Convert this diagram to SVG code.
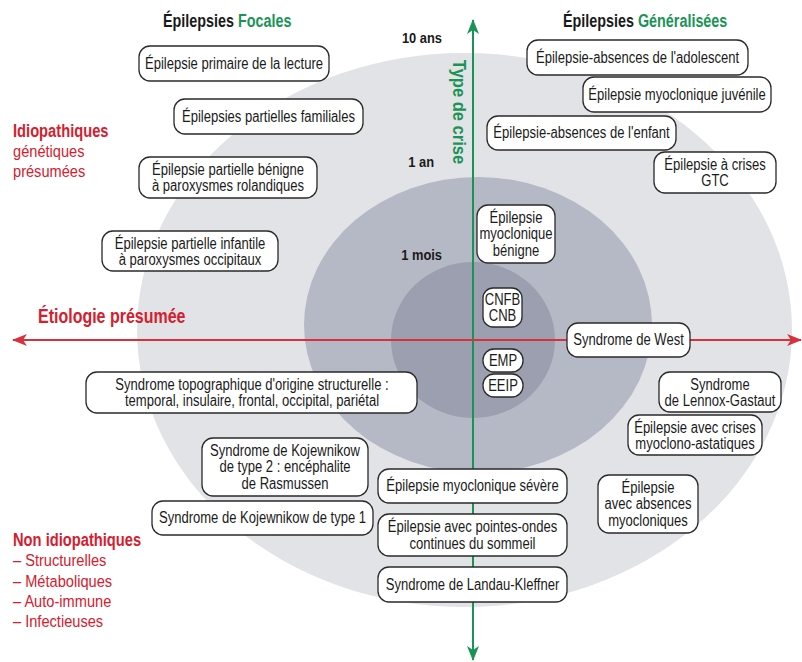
<svg xmlns="http://www.w3.org/2000/svg" width="802" height="662" viewBox="0 0 802 662">
<style>
.node rect{fill:#fff;stroke:#2a2a2a;stroke-width:1.3}
.node text{font-family:"Liberation Sans Narrow","Liberation Sans",Arial,sans-serif;font-size:16px;fill:#1a1a1a;text-anchor:middle}
.hd{font-family:"Liberation Sans Narrow","Liberation Sans",Arial,sans-serif;font-weight:bold;font-size:17.5px;fill:#1a1a1a}
.gr{fill:#1a9455}
.red{fill:#d4202e}
.age{font-family:"Liberation Sans Narrow","Liberation Sans",Arial,sans-serif;font-weight:bold;font-size:15px;fill:#1a1a1a;text-anchor:end}
.lg{font-family:"Liberation Sans Narrow","Liberation Sans",Arial,sans-serif;font-size:17px;fill:#d4202e}
</style>
<defs>
<marker id="ag" markerUnits="userSpaceOnUse" markerWidth="16" markerHeight="12" refX="14" refY="6" orient="auto-start-reverse" viewBox="0 0 16 12">
<path d="M0,0 L15,6 L0,12 L4,6 Z" fill="#1a9455"/>
</marker>
<marker id="ar" markerUnits="userSpaceOnUse" markerWidth="16" markerHeight="12" refX="14" refY="6" orient="auto-start-reverse" viewBox="0 0 16 12">
<path d="M0,0 L15,6 L0,12 L4,6 Z" fill="#d8303c"/>
</marker>
</defs>
<rect width="802" height="662" fill="#fff"/>
<g id="background">
<ellipse cx="464.5" cy="330" rx="327.5" ry="277" fill="#e2e3e7"/>
<ellipse cx="478" cy="325" rx="174" ry="148" fill="#b5b9c5"/>
<ellipse cx="473" cy="340" rx="82" ry="78" fill="#9b9fb0"/>
</g>
<g id="connectors">
<line x1="473" y1="20" x2="473" y2="660" stroke="#1a9455" stroke-width="2" marker-start="url(#ag)" marker-end="url(#ag)"/>
<line x1="13" y1="340" x2="801" y2="340" stroke="#d8303c" stroke-width="2" marker-start="url(#ar)" marker-end="url(#ar)"/>
</g>
<g id="labels">
<text class="hd" transform="matrix(.82 0 0 1 163 0)" x="0" y="27">Épilepsies <tspan class="gr">Focales</tspan></text>
<text class="hd" transform="matrix(.82 0 0 1 563 0)" x="0" y="27">Épilepsies <tspan class="gr">Généralisées</tspan></text>
<text class="age" transform="matrix(.86 0 0 1 442 0)" x="0" y="43">10 ans</text>
<text class="age" transform="matrix(.86 0 0 1 434 0)" x="0" y="167">1 an</text>
<text class="age" transform="matrix(.86 0 0 1 442 0)" x="0" y="260">1 mois</text>
<text class="hd gr" style="font-size:19px" text-anchor="middle" transform="translate(453,112) rotate(90) scale(.87,1)">Type de crise</text>
<text class="hd red" style="font-size:19.5px" transform="matrix(.82 0 0 1 38 0)" x="0" y="323">Étiologie présumée</text>
<g transform="matrix(.84 0 0 1 13 0)">
<text class="hd red" x="0" y="137">Idiopathiques</text>
<text class="hd red" x="0" y="546">Non idiopathiques</text>
</g>
<g transform="matrix(.86 0 0 1 13 0)">
<text class="lg" x="0" y="157">génétiques</text>
<text class="lg" x="0" y="177">présumées</text>
<text class="lg" x="0" y="566">– Structurelles</text>
<text class="lg" x="0" y="587">– Métaboliques</text>
<text class="lg" x="0" y="607">– Auto-immune</text>
<text class="lg" x="0" y="627">– Infectieuses</text>
</g>
</g>
<g id="n1" class="node"><rect x="139" y="46" width="190" height="35" rx="11"/><g transform="matrix(.815 0 0 1 234 0)"><text x="0" y="69">Épilepsie primaire de la lecture</text></g></g>
<g id="n2" class="node"><rect x="174" y="99" width="189" height="35" rx="11"/><g transform="matrix(.815 0 0 1 268.5 0)"><text x="0" y="122">Épilepsies partielles familiales</text></g></g>
<g id="n3" class="node"><rect x="139" y="157" width="178" height="41" rx="11"/><g transform="matrix(.815 0 0 1 228 0)"><text x="0" y="175">Épilepsie partielle bénigne</text><text x="0" y="191.5">à paroxysmes rolandiques</text></g></g>
<g id="n4" class="node"><rect x="102" y="231" width="176" height="40" rx="11"/><g transform="matrix(.815 0 0 1 190 0)"><text x="0" y="249">Épilepsie partielle infantile</text><text x="0" y="265.5">à paroxysmes occipitaux</text></g></g>
<g id="n5" class="node"><rect x="527" y="40" width="221" height="35" rx="11"/><g transform="matrix(.815 0 0 1 637.5 0)"><text x="0" y="63">Épilepsie-absences de l'adolescent</text></g></g>
<g id="n6" class="node"><rect x="583" y="77" width="188" height="35" rx="11"/><g transform="matrix(.815 0 0 1 677 0)"><text x="0" y="100">Épilepsie myoclonique juvénile</text></g></g>
<g id="n7" class="node"><rect x="487" y="116" width="189" height="34" rx="11"/><g transform="matrix(.815 0 0 1 581.5 0)"><text x="0" y="138.5">Épilepsie-absences de l'enfant</text></g></g>
<g id="n8" class="node"><rect x="654" y="152" width="122" height="41" rx="11"/><g transform="matrix(.815 0 0 1 715 0)"><text x="0" y="170">Épilepsie à crises</text><text x="0" y="186.5">GTC</text></g></g>
<g id="n9" class="node"><rect x="477" y="205" width="78" height="58" rx="11"/><g transform="matrix(.815 0 0 1 516 0)"><text x="0" y="223">Épilepsie</text><text x="0" y="239.5">myoclonique</text><text x="0" y="256">bénigne</text></g></g>
<g id="n10" class="node"><rect x="483" y="288" width="39" height="39" rx="10"/><g transform="matrix(.815 0 0 1 502.5 0)"><text x="0" y="305">CNFB</text><text x="0" y="321.5">CNB</text></g></g>
<g id="n11" class="node"><rect x="567" y="323" width="123" height="34" rx="11"/><g transform="matrix(.815 0 0 1 628.5 0)"><text x="0" y="345.5">Syndrome de West</text></g></g>
<g id="n12" class="node"><rect x="483" y="349" width="40" height="23" rx="11"/><g transform="matrix(.815 0 0 1 503 0)"><text x="0" y="366.5">EMP</text></g></g>
<g id="n13" class="node"><rect x="483" y="374" width="40" height="23" rx="11"/><g transform="matrix(.815 0 0 1 503 0)"><text x="0" y="391.5">EEIP</text></g></g>
<g id="n14" class="node"><rect x="86" y="372" width="331" height="41" rx="11"/><g transform="matrix(.815 0 0 1 252 0)"><text x="0" y="390">Syndrome topographique d'origine structurelle :</text><text x="0" y="406.5">temporal, insulaire, frontal, occipital, pariétal</text></g></g>
<g id="n15" class="node"><rect x="659" y="372" width="122" height="40" rx="11"/><g transform="matrix(.815 0 0 1 720 0)"><text x="0" y="390">Syndrome</text><text x="0" y="406.5">de Lennox-Gastaut</text></g></g>
<g id="n16" class="node"><rect x="628" y="415" width="134" height="40" rx="11"/><g transform="matrix(.815 0 0 1 695 0)"><text x="0" y="433">Épilepsie avec crises</text><text x="0" y="449.5">myoclono-astatiques</text></g></g>
<g id="n17" class="node"><rect x="202" y="438" width="166" height="58" rx="11"/><g transform="matrix(.815 0 0 1 285 0)"><text x="0" y="456">Syndrome de Kojewnikow</text><text x="0" y="472.5">de type 2 : encéphalite</text><text x="0" y="489">de Rasmussen</text></g></g>
<g id="n18" class="node"><rect x="152" y="501" width="221" height="34" rx="11"/><g transform="matrix(.815 0 0 1 262.5 0)"><text x="0" y="523.5">Syndrome de Kojewnikow de type 1</text></g></g>
<g id="n19" class="node"><rect x="378" y="469" width="189" height="34" rx="11"/><g transform="matrix(.815 0 0 1 472.5 0)"><text x="0" y="491.5">Épilepsie myoclonique sévère</text></g></g>
<g id="n20" class="node"><rect x="378" y="514" width="189" height="42" rx="11"/><g transform="matrix(.815 0 0 1 472.5 0)"><text x="0" y="532.5">Épilepsie avec pointes-ondes</text><text x="0" y="549">continues du sommeil</text></g></g>
<g id="n21" class="node"><rect x="378" y="567" width="189" height="35" rx="11"/><g transform="matrix(.815 0 0 1 472.5 0)"><text x="0" y="590">Syndrome de Landau-Kleffner</text></g></g>
<g id="n22" class="node"><rect x="598" y="475" width="100" height="58" rx="11"/><g transform="matrix(.815 0 0 1 648 0)"><text x="0" y="493">Épilepsie</text><text x="0" y="509.5">avec absences</text><text x="0" y="526">myocloniques</text></g></g>
</svg>
